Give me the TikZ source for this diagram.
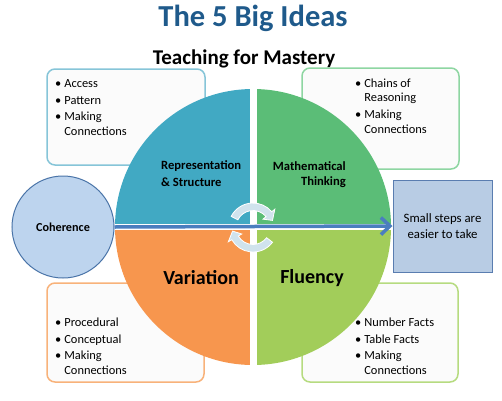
\documentclass[tikz,border=0pt]{standalone}
\usepackage{fontspec}
\setmainfont{Carlito}
\usetikzlibrary{arrows.meta}
\definecolor{titleblue}{HTML}{1F5A8B}
\definecolor{qteal}{HTML}{41A9C3}
\definecolor{qgreen}{HTML}{5BBD77}
\definecolor{qorange}{HTML}{F7964E}
\definecolor{qlime}{HTML}{A2CD5A}
\definecolor{bteal}{HTML}{86C5D8}
\definecolor{bgreen}{HTML}{8ED6A2}
\definecolor{borange}{HTML}{F8B27A}
\definecolor{blime}{HTML}{B6DB80}
\definecolor{boxfill}{HTML}{FBFBFB}
\definecolor{cohfill}{HTML}{BDD4EE}
\definecolor{cohdraw}{HTML}{4A74A8}
\definecolor{stepfill}{HTML}{B8CCE4}
\definecolor{stepdraw}{HTML}{5A7DB0}
\definecolor{arrowblue}{HTML}{4A7EBF}
\definecolor{cyclefill}{HTML}{D0E3ED}
\tikzset{
  infobox/.style={draw, line width=1.5pt, fill=boxfill, rounded corners=8pt, inner sep=0pt},
  bullets/.style={inner sep=0pt, anchor=base west, font=\fontsize{12.4}{14.5}\selectfont},
  quadlabel/.style={inner sep=0pt, font=\bfseries\fontsize{12.6}{17}\selectfont},
  biglabel/.style={inner sep=0pt, font=\bfseries\fontsize{20}{24}\selectfont},
  cyclearrow/.style={fill=cyclefill, draw=white, line width=0.8pt},
}
\newcommand{\blist}[1]{\begin{tabular}[t]{@{}l@{\hspace{3pt}}l@{}}#1\end{tabular}}
\begin{document}
\begin{tikzpicture}[x=1pt,y=1pt]
\useasboundingbox (0,0) rectangle (502,400);
% titles
\node[inner sep=0pt, font=\bfseries\fontsize{30.5}{34}\selectfont, text=titleblue] (title) at (253,382) {The 5 Big Ideas};
\node[inner sep=0pt, font=\bfseries\fontsize{21}{24}\selectfont] (subtitle) at (244,341) {Teaching for Mastery};
% boxes behind the circle
\node[infobox, draw=bteal, minimum width=158pt, minimum height=96pt] (boxTL) at (126,283) {};
\node[infobox, draw=bgreen, minimum width=157pt, minimum height=101pt] (boxTR) at (380.5,281.5) {};
\node[infobox, draw=borange, minimum width=157pt, minimum height=99pt] (boxBL) at (125.5,67.5) {};
\node[infobox, draw=blime, minimum width=156pt, minimum height=99pt] (boxBR) at (380,67.5) {};
% lists
\node[bullets] (listTL) at (55,312.5) {\blist{\textbullet & Access\\[2pt] \textbullet & Pattern\\[2pt] \textbullet & Making\\ & Connections}};
\node[bullets] (listTR) at (355,312.5) {\blist{\textbullet & Chains of\\ & Reasoning\\[2pt] \textbullet & Making\\ & Connections}};
\node[bullets] (listBL) at (55,73.5) {\blist{\textbullet & Procedural\\[2pt] \textbullet & Conceptual\\[2pt] \textbullet & Making\\ & Connections}};
\node[bullets] (listBR) at (355,73.5) {\blist{\textbullet & Number Facts\\[2pt] \textbullet & Table Facts\\[2pt] \textbullet & Making\\ & Connections}};
% quadrants
\coordinate (c) at (253,173);
\fill[qteal] (c) -- ++(180:138) arc[start angle=180, end angle=90, radius=138] -- cycle;
\fill[qgreen] (c) -- ++(90:138) arc[start angle=90, end angle=0, radius=138] -- cycle;
\fill[qorange] (c) -- ++(180:138) arc[start angle=180, end angle=270, radius=138] -- cycle;
\fill[qlime] (c) -- ++(270:138) arc[start angle=270, end angle=360, radius=138] -- cycle;
\fill[white] (249.5,34) rectangle (256.5,312);
\fill[white] (114,170) rectangle (392,176);
% quadrant labels
\node[quadlabel, align=left, anchor=west] (rep) at (161,226) {Representation\\\& Structure};
\node[quadlabel, align=right, anchor=east, font=\bfseries\fontsize{12.6}{15}\selectfont] (math) at (346,225.5) {Mathematical\\Thinking};
\node[biglabel] (var) at (201,122) {Variation};
\node[biglabel] (flu) at (312,122) {Fluency};
% coherence and small steps
\node[circle, draw=cohdraw, fill=cohfill, line width=1pt, minimum size=102pt, inner sep=0pt, font=\bfseries\fontsize{12.2}{14}\selectfont] (coh) at (63,173) {Coherence};
\node[rectangle, draw=stepdraw, fill=stepfill, line width=1pt, minimum width=99pt, minimum height=92pt, inner sep=0pt, align=center, font=\fontsize{12.8}{15.5}\selectfont] (steps) at (442.5,174) {Small steps are\\easier to take};
% main arrow
\draw[arrowblue, line width=3.5pt, -{Straight Barb[length=9pt,width=17pt]}] (coh.east) -- (steps.west);
% cycle arrows
\begin{scope}[shift={(253,172.5)}]
\path[cyclearrow] (153:24.5) arc[start angle=153, end angle=40, radius=24.5] -- (40:28.5) -- (20:20.75) -- (40:13) -- (40:17) arc[start angle=40, end angle=153, radius=17] -- cycle;
\path[cyclearrow] (-37:24.5) arc[start angle=-37, end angle=-150, radius=24.5] -- (-150:28.5) -- (-170:20.75) -- (-150:13) -- (-150:17) arc[start angle=-150, end angle=-37, radius=17] -- cycle;
\end{scope}
\end{tikzpicture}
\end{document}
